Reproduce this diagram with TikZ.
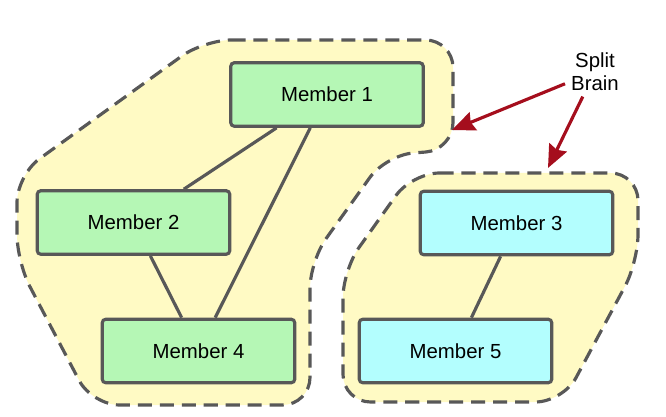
\documentclass[tikz,border=0pt]{standalone}
\usepackage{fontspec}
\setmainfont{Liberation Sans}
\usetikzlibrary{arrows.meta}
\usetikzlibrary{backgrounds}
\definecolor{memgreen}{HTML}{B5F7B5}
\definecolor{memcyan}{HTML}{B3FEFE}
\definecolor{zone}{HTML}{FFFAC4}
\definecolor{edgegray}{HTML}{585858}
\definecolor{brainred}{HTML}{A50E1D}

\begin{document}
\begin{tikzpicture}[font=\fontsize{11.6}{13}\selectfont]
	\useasboundingbox (0,0) rectangle (13.32,8.32);
	\begin{scope}[cluster/.style={fill=zone,draw=edgegray,line width=1.8pt,
	              rounded corners=0.55cm,dash pattern=on 8pt off 4.5pt}]
		\path[cluster] (4.08,7.52) -- (9.06,7.52) -- (9.06,5.32) -- (7.72,5.22) -- (6.2,3.1)
			-- (6.2,0.22) -- (1.84,0.22) -- (0.34,3.08) -- (0.34,4.82) -- cycle;
		\path[cluster] (8.24,4.86) -- (12.76,4.86) -- (12.76,3.08) -- (11.26,0.28)
			-- (6.86,0.28) -- (6.86,2.92) -- cycle;
	\end{scope}
	\begin{scope}[every node/.style={rectangle,rounded corners=2pt,draw=edgegray,line width=1.8pt,
	              minimum width=3.85cm,minimum height=1.27cm}]
	    	\node[fill=memgreen] (1) at (6.54,6.43) {Member 1};
	    	\node[fill=memgreen] (2) at (2.67,3.87) {Member 2};
	    	\node[fill=memcyan] (3) at (10.33,3.86) {Member 3};
	    	\node[fill=memgreen] (4) at (3.97,1.3) {Member 4};
	    	\node[fill=memcyan] (5) at (9.11,1.3) {Member 5};
	\end{scope}
	
	\begin{scope}[every edge/.style={draw=edgegray,line width=1.8pt}]
		\path (1) edge (2);
		\path (1) edge (4);
		\path (2) edge (4);
		\path (3) edge (5);
	\end{scope}
	
	\node[align=center] (split) at (11.9,6.89) {Split\\Brain};
	\coordinate (hit1) at (9.04,5.72);
	\coordinate (hit2) at (10.96,4.96);
	\begin{scope}[>={Stealth[length=13pt,width=11pt,inset=1.5pt]},
	              every edge/.style={draw=brainred,line width=1.8pt}]
		\path (split) edge[->] (hit1);
		\path (split) edge[->] (hit2);
	\end{scope}
\end{tikzpicture}
\end{document}
